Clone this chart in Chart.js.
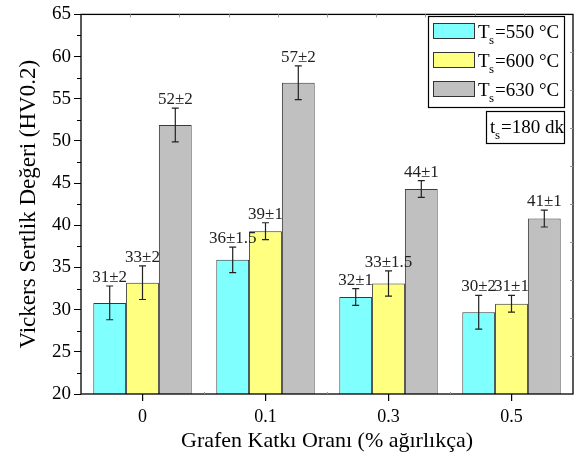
<!DOCTYPE html>
<html>
<head>
<meta charset="utf-8">
<script src="https://cdn.jsdelivr.net/npm/chart.js@4.4.1/dist/chart.umd.min.js"></script>
<style>
  html, body { margin: 0; padding: 0; background: #fff; }
  #wrap { width: 581px; height: 459px; }
</style>
</head>
<body>
<div id="wrap"><canvas id="myChart" width="581" height="459"></canvas></div>
<script>
// categories (graphene wt %)
const categories = ['0', '0.1', '0.3', '0.5'];

// hardness values
const hv550 = [30.8, 35.9, 31.5, 29.7];
const hv600 = [33.2, 39.3, 33.1, 30.7];
const hv630 = [51.9, 56.9, 44.3, 40.8];

// error bar half lengths
const err550 = [2, 1.5, 1, 2];
const err600 = [2, 1, 1.5, 1];
const err630 = [2, 2, 1, 1];

// text above the bars
const lbl550 = ['31±2', '36±1.5', '32±1', '30±2'];
const lbl600 = ['33±2', '39±1', '33±1.5', '31±1'];
const lbl630 = ['52±2', '57±2', '44±1', '41±1'];

// legend temperatures
const temps = ['550', '600', '630'];

const serif = "'Liberation Serif', 'DejaVu Serif', serif";

// error bars + value text
const errorBarPlugin = {
    id: 'errorBars',
    afterDatasetsDraw(chart) {
        const ctx = chart.ctx;
        const yScale = chart.scales.y;
        chart.data.datasets.forEach((ds, i) => {
            const meta = chart.getDatasetMeta(i);
            meta.data.forEach((bar, j) => {
                const v = ds.data[j];
                const e = ds.errors[j];
                const yTop = yScale.getPixelForValue(v + e);
                const yBot = yScale.getPixelForValue(v - e);
                ctx.save();
                ctx.strokeStyle = '#222';
                ctx.lineWidth = 1.2;
                ctx.beginPath();
                ctx.moveTo(bar.x, yTop);
                ctx.lineTo(bar.x, yBot);
                ctx.moveTo(bar.x - 3.5, yTop);
                ctx.lineTo(bar.x + 3.5, yTop);
                ctx.moveTo(bar.x - 3.5, yBot);
                ctx.lineTo(bar.x + 3.5, yBot);
                ctx.stroke();
                ctx.fillStyle = '#222';
                ctx.font = '17px ' + serif;
                ctx.textAlign = 'center';
                ctx.textBaseline = 'alphabetic';
                ctx.fillText(ds.texts[j], bar.x, yTop - 4);
                ctx.restore();
            });
        });
    }
};

// frame, minor ticks, legend boxes
const framePlugin = {
    id: 'frame',
    afterDraw(chart) {
        const ctx = chart.ctx;
        const a = chart.chartArea;
        const yScale = chart.scales.y;
        const xScale = chart.scales.x;
        ctx.save();
        ctx.strokeStyle = '#000';
        ctx.lineWidth = 1.3;
        ctx.strokeRect(a.left, a.top, a.right - a.left, a.bottom - a.top);

        // minor ticks on left axis
        ctx.lineWidth = 1;
        ctx.beginPath();
        for (let v = 22.5; v < 65; v += 5) {
            const y = Math.round(yScale.getPixelForValue(v)) + 0.5;
            ctx.moveTo(a.left - 4, y);
            ctx.lineTo(a.left, y);
        }
        ctx.stroke();

        // faint inward ticks on top and right
        ctx.strokeStyle = '#999';
        ctx.beginPath();
        for (let k = 1; k < 10; k++) {
            const x = Math.round(a.left + k * (a.right - a.left) / 10) + 0.5;
            ctx.moveTo(x, a.top);
            ctx.lineTo(x, a.top + 3);
            const y = Math.round(a.top + k * (a.bottom - a.top) / 10) + 0.5;
            ctx.moveTo(a.right, y);
            ctx.lineTo(a.right - 3, y);
        }
        // tiny ticks between categories
        for (let k = 1; k < categories.length; k++) {
            const x = Math.round((xScale.getPixelForValue(k - 1) + xScale.getPixelForValue(k)) / 2) + 0.5;
            ctx.moveTo(x, a.bottom);
            ctx.lineTo(x, a.bottom - 2);
        }
        ctx.stroke();

        // legend
        const lx = 428, ly = 16, lw = 136, lh = 91;
        ctx.fillStyle = '#fff';
        ctx.fillRect(lx, ly, lw, lh);
        ctx.strokeStyle = '#000';
        ctx.lineWidth = 1.2;
        ctx.strokeRect(lx + 0.5, ly + 0.5, lw, lh);
        chart.data.datasets.forEach((ds, i) => {
            const sy = ly + 7 + i * 29;
            ctx.fillStyle = ds.backgroundColor;
            ctx.fillRect(lx + 5, sy, 41, 15);
            ctx.strokeStyle = '#333';
            ctx.lineWidth = 1;
            ctx.strokeRect(lx + 5.5, sy + 0.5, 41, 15);
            ctx.fillStyle = '#000';
            ctx.textAlign = 'left';
            ctx.textBaseline = 'alphabetic';
            ctx.font = '19px ' + serif;
            const tx = lx + 50;
            const by = sy + 15;
            ctx.fillText('T', tx, by);
            ctx.font = '13px ' + serif;
            ctx.fillText('s', tx + 11, by + 6);
            ctx.font = '19px ' + serif;
            ctx.fillText('=' + temps[i] + ' °C', tx + 17, by);
        });

        // time box
        const bx = 486, bby = 111, bw = 78, bh = 32;
        ctx.fillStyle = '#fff';
        ctx.fillRect(bx, bby, bw, bh);
        ctx.strokeStyle = '#000';
        ctx.lineWidth = 1.2;
        ctx.strokeRect(bx + 0.5, bby + 0.5, bw, bh);
        ctx.fillStyle = '#000';
        ctx.font = '19px ' + serif;
        ctx.fillText('t', bx + 4, bby + 22);
        ctx.font = '13px ' + serif;
        ctx.fillText('s', bx + 9, bby + 28);
        ctx.font = '19px ' + serif;
        ctx.fillText('=180 dk', bx + 15, bby + 22);
        ctx.restore();
    }
};

const myChart = document.getElementById('myChart');

let barChart = new Chart(myChart, {
    type: 'bar',
    data: {
        labels: categories,
        datasets: [
            {
                label: 'Ts=550 °C',
                data: hv550,
                errors: err550,
                texts: lbl550,
                backgroundColor: '#80ffff',
                borderColor: '#2f3a3a',
                borderWidth: 1
            },
            {
                label: 'Ts=600 °C',
                data: hv600,
                errors: err600,
                texts: lbl600,
                backgroundColor: '#ffff80',
                borderColor: '#33332a',
                borderWidth: 1
            },
            {
                label: 'Ts=630 °C',
                data: hv630,
                errors: err630,
                texts: lbl630,
                backgroundColor: '#c0c0c0',
                borderColor: '#3a3a3a',
                borderWidth: 1
            }
        ]
    },
    options: {
        responsive: false,
        animation: false,
        layout: { padding: { top: 12, right: 8, left: 0, bottom: 0 } },
        datasets: { bar: { categoryPercentage: 0.8, barPercentage: 1.0 } },
        plugins: {
            legend: { display: false },
            tooltip: { enabled: false }
        },
        scales: {
            x: {
                grid: { display: true, drawOnChartArea: false, offset: false, tickLength: 7, color: '#000', lineWidth: 1.2 },
                border: { display: false },
                ticks: { color: '#000', font: { family: serif, size: 18 }, padding: 5 },
                title: {
                    display: true,
                    text: 'Grafen Katkı Oranı (% ağırlıkça)',
                    color: '#000',
                    font: { family: serif, size: 22 },
                    padding: { top: 0, bottom: 5 }
                },
                afterFit(scale) { scale.height = 65; }
            },
            y: {
                min: 20,
                max: 65,
                ticks: { stepSize: 5, color: '#000', font: { family: serif, size: 19 }, padding: 3 },
                grid: { display: true, drawOnChartArea: false, tickLength: 7, color: '#000', lineWidth: 1 },
                border: { display: false },
                title: {
                    display: true,
                    text: 'Vickers Sertlik Değeri (HV0.2)',
                    color: '#000',
                    font: { family: serif, size: 23 },
                    padding: { top: 15, bottom: 0 }
                },
                afterFit(scale) { scale.width = 81; }
            }
        }
    },
    plugins: [errorBarPlugin, framePlugin]
});
</script>
</body>
</html>
